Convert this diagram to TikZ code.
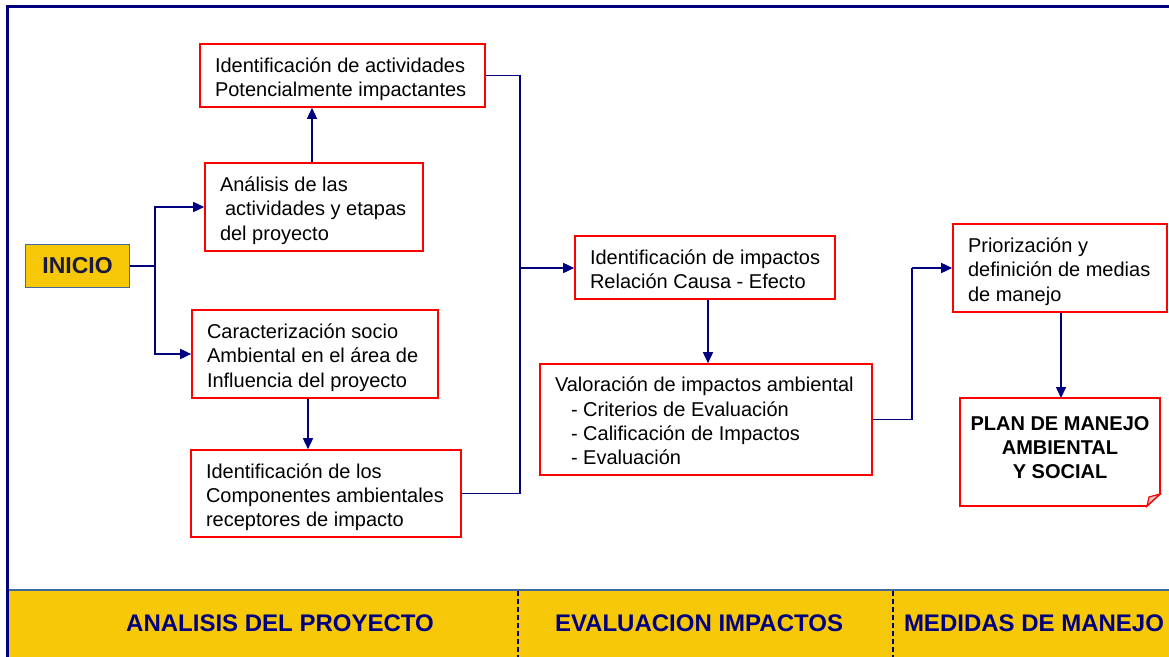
\documentclass[tikz,border=0pt]{standalone}
\usepackage{fontspec}
\setmainfont{Liberation Sans}
\usetikzlibrary{arrows.meta}
\definecolor{frameblue}{HTML}{000080}
\definecolor{bandyellow}{HTML}{F7C808}
\definecolor{steel}{HTML}{3E6A9E}
\definecolor{inktext}{HTML}{000080}
\definecolor{inicio}{HTML}{1A1A40}
\newcommand{\boxlines}[2]{\makebox[#1][l]{\raisebox{-4pt}[\height][\depth]{\begin{tabular}{@{}l@{}}#2\end{tabular}}}}
\tikzset{
  box/.style={draw=red, line width=1.6pt, fill=white, inner xsep=15pt, inner ysep=0pt,
    font=\fontsize{20}{24.3}\selectfont, text=black},
  conn/.style={draw=frameblue, line width=1.5pt},
  arr/.style={conn, -{Triangle[length=11pt,width=10pt]}},
  bandlabel/.style={font=\fontsize{24}{28}\bfseries\selectfont, text=inktext},
}
\begin{document}
\begin{tikzpicture}[x=1pt,y=-1pt]
\useasboundingbox (0,0) rectangle (1169,656);
% frame
\fill[white] (0,0) rectangle (1169,656);
\fill[bandyellow] (8,590) rectangle (1172,660);
\draw[steel, line width=1.5pt] (8,590) -- (1172,590);
\draw[frameblue, line width=3pt] (7,660) -- (7,6) -- (1175,6);
\draw[frameblue, line width=1.2pt, dash pattern=on 5pt off 3pt] (518,591) -- (518,660);
\draw[frameblue, line width=1.2pt, dash pattern=on 5pt off 3pt] (893,591) -- (893,660);
\node[bandlabel] (l1) at (280,623) {ANALISIS DEL PROYECTO};
\node[bandlabel] (l2) at (699,623) {EVALUACION IMPACTOS};
\node[bandlabel] (l3) at (1034,623) {MEDIDAS DE MANEJO};

% nodes
\node[draw=steel, line width=1.5pt, fill=bandyellow, minimum width=104pt, minimum height=43pt,
  font=\fontsize{23}{27}\bfseries\selectfont, text=inicio] (ini) at (77.5,266) {INICIO};

\node[box, minimum height=63pt] (A) at (342.5,75.5)
  {\boxlines{255pt}{Identificación de actividades\\Potencialmente impactantes}};
\node[box, minimum height=88pt] (B) at (314,207)
  {\boxlines{188pt}{Análisis de las\\\hspace*{5pt}actividades y etapas\\del proyecto}};
\node[box, minimum height=88pt] (C) at (315,354)
  {\boxlines{216pt}{Caracterización socio\\Ambiental en el área de\\Influencia del proyecto}};
\node[box, minimum height=87pt] (D) at (326,493.5)
  {\boxlines{240pt}{Identificación de los\\Componentes ambientales\\receptores de impacto}};
\node[box, minimum height=63pt] (E) at (705,267.5)
  {\boxlines{230pt}{Identificación de impactos\\Relación Causa - Efecto}};
\node[box, minimum height=111pt] (F) at (706,419.5)
  {\boxlines{302pt}{Valoración de impactos ambiental\\\hspace*{16pt}- Criterios de Evaluación\\\hspace*{16pt}- Calificación de Impactos\\\hspace*{16pt}- Evaluación}};
\node[box, minimum height=88pt] (G) at (1060,268)
  {\boxlines{184pt}{Priorización y\\definición de medias\\de manejo}};

% plan box with folded corner
\draw[red, line width=1.6pt, fill=white] (960,398) -- (1160,398) -- (1160,494) -- (1147,506) -- (960,506) -- cycle;
\draw[red, line width=1.2pt, fill=black!20] (1147,506) -- (1149,497) -- (1160,494) -- cycle;
\coordinate (Htop) at (1061,398);
\node[font=\fontsize{20}{24}\bfseries\selectfont, align=center, text=black] (H) at (1060,448)
  {PLAN DE MANEJO\\AMBIENTAL\\Y SOCIAL};

% connectors
\coordinate (j1) at (155,266);
\draw[conn] (ini.east) -- (j1);
\draw[arr] (j1) |- (B.west);
\draw[arr] (j1) |- (C.west);
\draw[arr] (B.north -| 312,0) -- (A.south -| 312,0);
\draw[arr] (C.south -| 308,0) -- (D.north -| 308,0);
\coordinate (j2) at (520,268);
\draw[conn] (A.east) -| (j2);
\draw[conn] (D.east) -| (j2);
\draw[arr] (j2) -- (E.west |- j2);
\draw[arr] (E.south -| 708,0) -- (F.north -| 708,0);
\coordinate (j3) at (912,268);
\draw[conn] (F.east) -| (j3);
\draw[arr] (j3) -- (G.west);
\draw[arr] (G.south -| 1061,0) -- (Htop);
\end{tikzpicture}
\end{document}
